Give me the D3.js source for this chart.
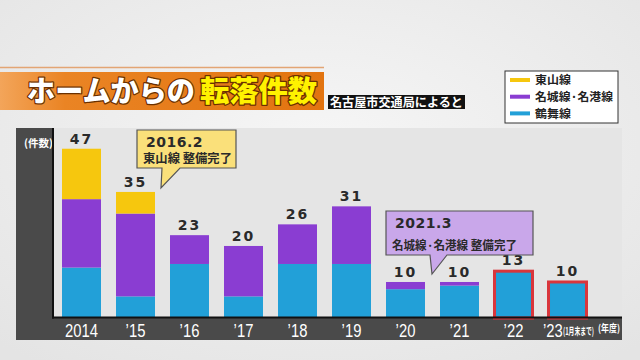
<!DOCTYPE html>
<html><head><meta charset="utf-8">
<script src="https://cdn.jsdelivr.net/npm/d3@7"></script>
<style>body{margin:0;background:#ececec}svg{display:block}</style>
</head><body><svg id="c" width="640" height="360"></svg>
<script>
const years = ["2014","'15","'16","'17","'18","'19","'20","'21","'22","'23"];
const higashiyama = [14,6,0,0,0,0,0,0,0,0];
const meijo = [19,23,8,14,11,16,2,1,0,0];
const tsurumai = [14,6,15,6,15,15,8,9,13,10];
const highlight = ["'22","'23"];
const seriesKeys = ["tsurumai","meijo","higashiyama"];
const colors = {tsurumai:"#22a0d8", meijo:"#8a3dd2", higashiyama:"#f6c70e"};
const legendOrder = ["higashiyama","meijo","tsurumai"];
const legendLabels = {higashiyama:"東山線", meijo:"名城線·名港線", tsurumai:"鶴舞線"};

const rows = years.map((y,i)=>({year:y, tsurumai:tsurumai[i], meijo:meijo[i], higashiyama:higashiyama[i]}));
const svg = d3.select("#c");
const JP = "'Noto Sans CJK JP','Noto Sans',sans-serif";

// background
const defs = svg.append("defs");
const bg = defs.append("radialGradient").attr("id","bg").attr("cx","50%").attr("cy","40%").attr("r","75%");
bg.append("stop").attr("offset","0%").attr("stop-color","#f6f6f6");
bg.append("stop").attr("offset","100%").attr("stop-color","#e4e4e4");
svg.append("rect").attr("width",640).attr("height",360).attr("fill","url(#bg)");

// title banner
const og = defs.append("linearGradient").attr("id","og").attr("x1","0").attr("x2","1");
og.append("stop").attr("offset","0%").attr("stop-color","#f3a55a");
og.append("stop").attr("offset","20%").attr("stop-color","#ea8424");
og.append("stop").attr("offset","100%").attr("stop-color","#e27410");
svg.append("line").attr("x1",0).attr("x2",324).attr("y1",67.5).attr("y2",67.5).attr("stroke","#e3a574").attr("stroke-width",1.5);
svg.append("rect").attr("x",0).attr("y",72).attr("width",324).attr("height",38).attr("fill","url(#og)");
const tstyle = s => s.attr("font-family",JP).attr("font-weight",900).attr("font-size",29)
  .attr("lengthAdjust","spacingAndGlyphs")
  .attr("stroke","#6b3000").attr("stroke-width",2.5).attr("paint-order","stroke").attr("stroke-linejoin","round");
svg.append("text").attr("x",27).attr("y",102).attr("textLength",168).attr("fill","#ffffff").call(tstyle).text("ホームからの");
svg.append("text").attr("x",200).attr("y",102).attr("textLength",117).attr("fill","#fff200").call(tstyle).text("転落件数");

svg.append("rect").attr("x",328).attr("y",95).attr("width",137).attr("height",14).attr("fill","#111");
svg.append("text").attr("x",330).attr("y",106.5).attr("font-family",JP).attr("font-weight",700).attr("font-size",12.5)
  .attr("fill","#fff").attr("textLength",133).attr("lengthAdjust","spacingAndGlyphs").text("名古屋市交通局によると");

// legend
const lg = svg.append("g");
lg.append("rect").attr("x",505).attr("y",71).attr("width",113).attr("height",52).attr("fill","#fff").attr("stroke","#333").attr("stroke-width",1);
const lgW = {higashiyama:36, meijo:78, tsurumai:36};
legendOrder.forEach((k,i)=>{
  const y = 80 + i*16.7;
  lg.append("line").attr("x1",510).attr("x2",530).attr("y1",y).attr("y2",y).attr("stroke",colors[k]).attr("stroke-width",4);
  lg.append("text").attr("x",535).attr("y",y+4.3).attr("font-family",JP).attr("font-weight",700).attr("font-size",11.3)
    .attr("fill","#222").attr("textLength",lgW[k]).attr("lengthAdjust","spacingAndGlyphs").text(legendLabels[k]);
});

// panel
svg.append("rect").attr("x",16).attr("y",128).attr("width",37).attr("height",212).attr("fill","#4a4a4a");
svg.append("rect").attr("x",16).attr("y",318).attr("width",606).attr("height",22).attr("fill","#4a4a4a");
svg.append("rect").attr("x",53).attr("y",128).attr("width",569).attr("height",190).attr("fill","#e5e5e5");
svg.append("text").attr("x",24).attr("y",147).attr("font-family",JP).attr("font-weight",700).attr("font-size",10.5).attr("fill","#fff").text("(件数)");

const x = d3.scaleBand().domain(years).range([54.5,594.5]).paddingInner(0.278).paddingOuter(0.139);
const y = d3.scaleLinear().domain([0,52.2]).range([318,130]);

const stack = d3.stack().keys(seriesKeys)(rows);
svg.append("g").selectAll("g").data(stack).join("g").attr("fill",d=>colors[d.key])
  .selectAll("rect").data(d=>d).join("rect")
  .attr("x",d=>x(d.data.year)).attr("width",x.bandwidth())
  .attr("y",d=>y(d[1])).attr("height",d=>y(d[0])-y(d[1]));

// highlight outlines
svg.append("g").selectAll("rect").data(rows.filter(r=>highlight.includes(r.year))).join("rect")
  .attr("x",d=>x(d.year)+0.5).attr("width",x.bandwidth()-1)
  .attr("y",d=>y(d.tsurumai+d.meijo+d.higashiyama)).attr("height",d=>318-y(d.tsurumai+d.meijo+d.higashiyama))
  .attr("fill","none").attr("stroke","#d9363c").attr("stroke-width",3);

// axis lines
svg.append("line").attr("x1",53).attr("x2",53).attr("y1",128).attr("y2",318.5).attr("stroke","#111").attr("stroke-width",2);
svg.append("line").attr("x1",52).attr("x2",622).attr("y1",317.5).attr("y2",317.5).attr("stroke","#111").attr("stroke-width",2);

// totals
svg.append("g").selectAll("text").data(rows).join("text")
  .attr("x",d=>x(d.year)+x.bandwidth()/2)
  .attr("y",d=>y(d.tsurumai+d.meijo+d.higashiyama)-(highlight.includes(d.year)?6:5))
  .attr("text-anchor","middle").attr("font-family","'DejaVu Sans',sans-serif").attr("font-weight",700)
  .attr("font-size",14).attr("letter-spacing",2).attr("fill","#2a2a2a")
  .text(d=>d.tsurumai+d.meijo+d.higashiyama);

// x axis
const ax = svg.append("g").attr("transform","translate(0,318)")
  .call(d3.axisBottom(x).tickSize(0).tickPadding(0));
ax.select(".domain").remove();
ax.selectAll("text").attr("y",19).attr("dy",0).attr("fill","#fff")
  .attr("font-family","'Liberation Sans','Roboto',sans-serif").attr("font-size",19)
  .attr("font-weight",400)
  .attr("text-anchor",d=>d==="'23"?"end":"middle")
  .attr("x",d=>d==="'23"?-6:0)
  .attr("transform","scale(0.78,1)")
  .text(d=>d.replace("'","’"));
svg.append("text").attr("transform","translate(563,335) scale(0.58,1)").attr("fill","#fff").attr("font-family",JP).attr("font-weight",700)
  .attr("font-size",10).text("(1月末まで)");
svg.append("text").attr("transform","translate(598,332) scale(0.8,1)").attr("fill","#fff").attr("font-family",JP).attr("font-weight",700)
  .attr("font-size",10).text("(年度)");

// callouts
function callout(bx,by,bw,bh,tx1,tx2,tip,fill,l1,l2,l2w){
  const p = `M${bx},${by}H${bx+bw}V${by+bh}H${tx2}L${tip[0]},${tip[1]}L${tx1},${by+bh}H${bx}Z`;
  svg.append("path").attr("d",p).attr("fill",fill).attr("stroke","#555").attr("stroke-width",1.2);
  svg.append("text").attr("x",bx+9).attr("y",by+17).attr("font-family","'DejaVu Sans',sans-serif").attr("font-weight",700)
    .attr("font-size",14).attr("fill","#2a2a2a").attr("letter-spacing",0.5).text(l1);
  svg.append("text").attr("x",bx+6).attr("y",by+bh-5).attr("font-family",JP).attr("font-weight",700)
    .attr("font-size",12).attr("fill","#2a2a2a").attr("textLength",l2w).attr("lengthAdjust","spacingAndGlyphs").text(l2);
}
callout(137,130,99,38,162,180,[161,188],"#fae07a","2016.2","東山線 整備完了",89);
callout(386,211,147,44,430,447,[432,274],"#c9a7ea","2021.3","名城線·名港線 整備完了",125);
</script></body></html>
